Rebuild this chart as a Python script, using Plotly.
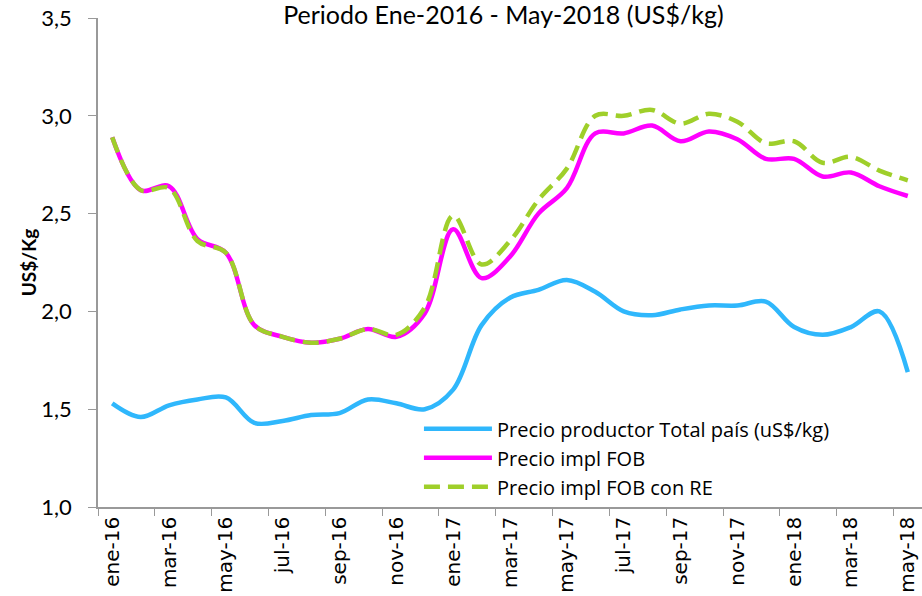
import plotly.graph_objects as go

meses = ['ene-16', 'feb-16', 'mar-16', 'abr-16', 'may-16', 'jun-16', 'jul-16', 'ago-16',
         'sep-16', 'oct-16', 'nov-16', 'dic-16', 'ene-17', 'feb-17', 'mar-17', 'abr-17',
         'may-17', 'jun-17', 'jul-17', 'ago-17', 'sep-17', 'oct-17', 'nov-17', 'dic-17',
         'ene-18', 'feb-18', 'mar-18', 'abr-18', 'may-18']

precio_productor = [1.53, 1.46, 1.52, 1.55, 1.56, 1.43, 1.44, 1.47, 1.48, 1.55, 1.53, 1.50,
                    1.60, 1.93, 2.07, 2.11, 2.16, 2.10, 2.00, 1.98, 2.01, 2.03, 2.03, 2.05,
                    1.92, 1.88, 1.92, 2.00, 1.69]

precio_fob = [2.89, 2.62, 2.64, 2.37, 2.30, 1.93, 1.87, 1.84, 1.86, 1.91, 1.87, 1.99,
              2.42, 2.17, 2.28, 2.50, 2.63, 2.91, 2.91, 2.95, 2.87, 2.92, 2.88, 2.78,
              2.78, 2.69, 2.71, 2.64, 2.59]

precio_fob_re = [2.89, 2.62, 2.63, 2.36, 2.30, 1.93, 1.87, 1.84, 1.86, 1.91, 1.88, 2.02,
                 2.49, 2.24, 2.36, 2.57, 2.73, 3.00, 3.00, 3.03, 2.96, 3.01, 2.97, 2.86,
                 2.87, 2.76, 2.79, 2.72, 2.67]

titulo = 'Periodo Ene-2016 - May-2018 (US$/kg)'

fig = go.Figure()
fig.add_trace(go.Scatter(x=meses, y=precio_productor, mode='lines',
                         name='Precio productor Total país (uS$/kg)',
                         line=dict(color='#2FB7FC', width=4.5, shape='spline')))
fig.add_trace(go.Scatter(x=meses, y=precio_fob, mode='lines', name='Precio impl FOB',
                         line=dict(color='#FF00FF', width=4.5, shape='spline')))
fig.add_trace(go.Scatter(x=meses, y=precio_fob_re, mode='lines', name='Precio impl FOB con RE',
                         line=dict(color='#9FCF2A', width=4.5, shape='spline', dash='16px,8px')))

fig.update_layout(
    width=922, height=596,
    margin=dict(l=98, r=0, t=18, b=89, autoexpand=False),
    paper_bgcolor='white', plot_bgcolor='white',
    separators=',.',
    font=dict(family='Lato', color='black'),
    title=dict(text=titulo, x=0.546, xanchor='center', y=0.975, yanchor='middle',
               automargin=False,
               font=dict(family='Lato', size=25, color='black')),
    legend=dict(x=0.3895, y=0.2, xanchor='left', yanchor='top',
                bgcolor='rgba(0,0,0,0)', font=dict(family='Open Sans', size=20),
                tracegroupgap=0, itemwidth=68),
    showlegend=True,
)

fig.update_xaxes(
    type='category', range=[-0.5, 28.5], automargin=False,
    tickmode='linear', tick0=0, dtick=2, tickson='boundaries',
    ticks='outside', ticklen=7, tickcolor='#999999',
    showline=True, linecolor='#999999', linewidth=1.5,
    showgrid=False, tickangle=-90,
    tickfont=dict(family='DejaVu Sans', size=20),
)
fig.update_yaxes(
    range=[1.0, 3.5], dtick=0.5, tickformat='.1f', automargin=False,
    ticks='outside', ticklen=8, tickcolor='#999999', ticklabelstandoff=12,
    showline=True, linecolor='#999999', linewidth=1.5,
    showgrid=False, zeroline=False,
    tickfont=dict(family='Lato', size=22),
    title=dict(text='<b>US$/Kg</b>', font=dict(family='Lato', size=19), standoff=0),
)

# sin margen del body para que la figura llene la ventana
fig.write_html("out.html", config={'displayModeBar': False},
               post_script="document.body.style.margin='0';")
